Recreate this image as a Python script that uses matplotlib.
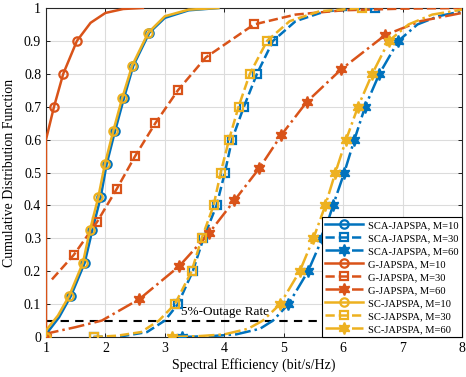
import matplotlib
matplotlib.use("Agg")
import matplotlib.pyplot as plt
import numpy as np

plt.rcParams['font.family'] = ['Liberation Serif', 'DejaVu Serif']
plt.rcParams['mathtext.fontset'] = 'stix'

BLUE = '#0072BD'
ORANGE = '#D95319'
YELLOW = '#EDB120'

# ---- data ----
sca10_x = [1.0, 1.05, 1.22, 1.42, 1.65, 1.78, 1.92, 2.02, 2.16, 2.31, 2.47, 2.74, 3.0, 3.4, 3.9]
sca10_y = [0.0, 0.02, 0.06, 0.125, 0.225, 0.325, 0.425, 0.525, 0.625, 0.725, 0.825, 0.925, 0.97, 0.993, 1.0]
sca10_m = [3, 4, 5, 6, 7, 8, 9, 10, 11]

sca30_x = [1.8, 2.3, 2.7, 3.0, 3.22, 3.47, 3.65, 3.87, 4.01, 4.13, 4.33, 4.55, 4.82, 5.2, 5.7, 6.54]
sca30_y = [0.0, 0.003, 0.015, 0.05, 0.1, 0.2, 0.3, 0.4, 0.5, 0.6, 0.7, 0.8, 0.9, 0.96, 0.99, 1.0]
sca30_m = [0, 4, 5, 6, 7, 8, 9, 10, 11, 12, 15]

sca60_x = [3.29, 3.8, 4.2, 4.6, 4.82, 5.08, 5.41, 5.65, 5.83, 6.02, 6.19, 6.37, 6.61, 6.93, 7.25, 7.6, 8.0]
sca60_y = [0.0, 0.003, 0.008, 0.025, 0.05, 0.1, 0.2, 0.3, 0.4, 0.5, 0.6, 0.7, 0.8, 0.9, 0.95, 0.975, 0.99]
sca60_m = [0, 5, 6, 7, 8, 9, 10, 11, 12, 13]

g10_x = [1.0, 1.0, 1.135, 1.29, 1.52, 1.75, 2.0, 2.3, 2.63]
g10_y = [0.0, 0.6, 0.70, 0.80, 0.90, 0.955, 0.985, 0.997, 1.0]
g10_m = [0, 2, 3, 4]

g30_x = [1.1, 1.47, 1.86, 2.19, 2.5, 2.84, 3.22, 3.69, 4.5, 5.2, 6.0, 7.0, 8.0]
g30_y = [0.175, 0.25, 0.35, 0.45, 0.55, 0.65, 0.75, 0.85, 0.95, 0.98, 0.993, 0.998, 1.0]
g30_m = [1, 2, 3, 4, 5, 6, 7, 8]

g60_x = [1.0, 1.0, 1.5, 1.94, 2.57, 3.24, 3.74, 4.17, 4.59, 4.96, 5.39, 5.97, 6.71, 7.3, 8.0]
g60_y = [0.0, 0.01, 0.03, 0.05, 0.115, 0.215, 0.315, 0.415, 0.513, 0.614, 0.715, 0.814, 0.918, 0.96, 0.985]
g60_m = [0, 4, 5, 6, 7, 8, 9, 10, 11, 12]

sc10_x = [1.0, 1.0, 1.2, 1.39, 1.62, 1.74, 1.88, 1.99, 2.13, 2.28, 2.45, 2.72, 3.0, 3.4, 3.9]
sc10_y = [0.0, 0.02, 0.065, 0.125, 0.225, 0.325, 0.425, 0.525, 0.625, 0.725, 0.825, 0.925, 0.975, 0.995, 1.0]
sc10_m = [0, 3, 4, 5, 6, 7, 8, 9, 10, 11]

sc30_x = [1.8, 2.2, 2.6, 2.9, 3.17, 3.45, 3.62, 3.82, 3.94, 4.08, 4.24, 4.43, 4.72, 5.1, 5.6, 6.32]
sc30_y = [0.0, 0.004, 0.015, 0.05, 0.1, 0.2, 0.3, 0.4, 0.5, 0.6, 0.7, 0.8, 0.9, 0.96, 0.99, 1.0]
sc30_m = [0, 4, 5, 6, 7, 8, 9, 10, 11, 12, 15]

sc60_x = [3.12, 3.6, 4.0, 4.4, 4.65, 4.94, 5.27, 5.5, 5.7, 5.87, 6.05, 6.25, 6.49, 6.77, 7.1, 7.5, 8.0]
sc60_y = [0.0, 0.003, 0.008, 0.025, 0.05, 0.1, 0.2, 0.3, 0.4, 0.5, 0.6, 0.7, 0.8, 0.9, 0.95, 0.98, 0.995]
sc60_m = [0, 5, 6, 7, 8, 9, 10, 11, 12, 13]

labels = ['SCA-JAPSPA, M=10', 'SCA-JAPSPA, M=30', 'SCA-JAPSPA, M=60',
          'G-JAPSPA, M=10', 'G-JAPSPA, M=30', 'G-JAPSPA, M=60',
          'SC-JAPSPA, M=10', 'SC-JAPSPA, M=30', 'SC-JAPSPA, M=60']

outage_level = 0.05
outage_label = '5%-Outage Rate'
x_ticks = [1, 2, 3, 4, 5, 6, 7, 8]
y_ticks = [0, 0.1, 0.2, 0.3, 0.4, 0.5, 0.6, 0.7, 0.8, 0.9, 1]
y_ticklabels = ['0', '0.1', '0.2', '0.3', '0.4', '0.5', '0.6', '0.7', '0.8', '0.9', '1']

HEX = (6, 1, 0)  # six-pointed star (hexagram)

series = [
    (sca10_x, sca10_y, sca10_m, BLUE, '-', 'o'),
    (sca30_x, sca30_y, sca30_m, BLUE, '--', 's'),
    (sca60_x, sca60_y, sca60_m, BLUE, '-.', HEX),
    (g10_x, g10_y, g10_m, ORANGE, '-', 'o'),
    (g30_x, g30_y, g30_m, ORANGE, '--', 's'),
    (g60_x, g60_y, g60_m, ORANGE, '-.', HEX),
    (sc10_x, sc10_y, sc10_m, YELLOW, '-', 'o'),
    (sc30_x, sc30_y, sc30_m, YELLOW, '--', 's'),
    (sc60_x, sc60_y, sc60_m, YELLOW, '-.', HEX),
]

fig = plt.figure(figsize=(4.66, 3.77), dpi=100)
ax = fig.add_axes([46/466, 1-337/377, (462-46)/466, (337-8)/377])

ax.grid(True, color='#dcdcdc', linewidth=0.8)
ax.set_axisbelow(True)

ax.plot([1, 8], [outage_level, outage_level], color='black', linestyle=(0, (4, 3)), linewidth=1.5, zorder=2)
ax.text(3.28, outage_level + 0.008, outage_label, fontsize=9.5, ha='left', va='bottom', zorder=3)

handles = []
for (xs, ys, ms, c, ls, mk), lab in zip(series, labels):
    if mk == HEX:
        mfc = c
        msz = 8.5
        mew = 1.2
    else:
        mfc = 'none'
        msz = 6
        mew = 1.6
    h, = ax.plot(xs, ys, color=c, linestyle=ls, linewidth=1.8, marker=mk, markevery=ms,
                 markersize=msz, markerfacecolor=mfc, markeredgecolor=c, markeredgewidth=mew,
                 label=lab, zorder=4)
    handles.append(h)

ax.set_xlim(1, 8)
ax.set_ylim(0, 1)
ax.set_xticks(x_ticks)
ax.set_yticks(y_ticks)
ax.set_yticklabels(y_ticklabels)
ax.tick_params(direction='in', labelsize=10, top=True, right=True, length=3, width=0.6)
for s in ax.spines.values():
    s.set_linewidth(0.8)
    s.set_color('#262626')

ax.set_xlabel('Spectral Efficiency (bit/s/Hz)', fontsize=10, labelpad=2)
ax.set_ylabel('Cumulative Distribution Function', fontsize=10, labelpad=6)

leg = ax.legend(handles=handles, loc='lower right', bbox_to_anchor=(1.0, 0.0), borderaxespad=0.0,
                fontsize=7.6, frameon=True, fancybox=False, framealpha=1, edgecolor='black',
                handlelength=3.6, labelspacing=0.34, borderpad=0.3, handletextpad=0.5)
leg.get_frame().set_linewidth(0.8)
leg.set_zorder(10)

fig.savefig('out.png', dpi=100)
